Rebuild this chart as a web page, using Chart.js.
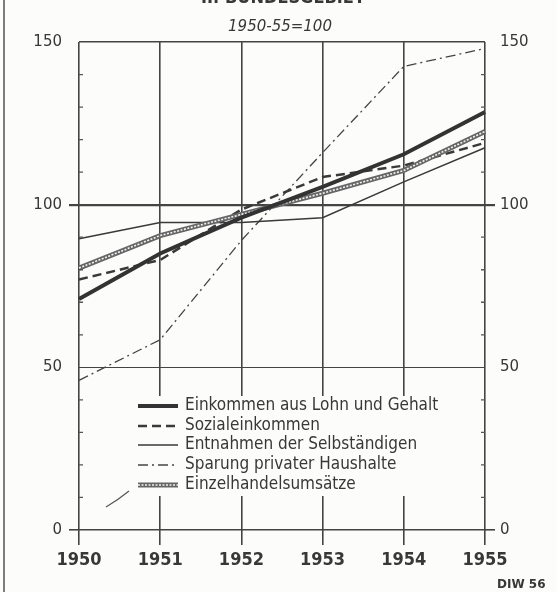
<!DOCTYPE html>
<html>
<head>
<meta charset="utf-8">
<script src="https://cdn.jsdelivr.net/npm/chart.js@4.4.1/dist/chart.umd.min.js"></script>
<style>
  html, body { margin: 0; background: #fcfcfb; }
  #wrap { width: 557px; height: 592px; position: relative; }
</style>
</head>
<body>
<div id="wrap"><canvas id="c"></canvas></div>
<script>
const years = ['1950', '1951', '1952', '1953', '1954', '1955']
const lohnGehalt = [71, 85, 96, 105.5, 115.5, 128.5]
const sozialeinkommen = [77, 83, 98.5, 108.5, 112, 119]
const entnahmen = [89.5, 94.5, 94.5, 96, 107, 117.5]
const sparung = [46, 58.5, 89, 116, 142.5, 148]
const einzelhandel = [80.5, 90.5, 97, 103.5, 110.5, 122.5]
const yTicks = [0, 50, 100, 150]
const minorTicks = [10, 20, 30, 40, 60, 70, 80, 90, 110, 120, 130, 140]
const legendLabels = [
  'Einkommen aus Lohn und Gehalt',
  'Sozialeinkommen',
  'Entnahmen der Selbständigen',
  'Sparung privater Haushalte',
  'Einzelhandelsumsätze'
]

const ink = '#383838'
const cond = '"DejaVu Sans Condensed", sans-serif'

// paper, frame line, headings
const paper = {
  id: 'paper',
  beforeDraw(chart) {
    const ctx = chart.ctx
    ctx.save()
    ctx.fillStyle = '#fcfcfb'
    ctx.fillRect(0, 0, chart.width, chart.height)
    ctx.strokeStyle = '#555'
    ctx.lineWidth = 1.5
    ctx.beginPath(); ctx.moveTo(4, 0); ctx.lineTo(4, chart.height); ctx.stroke()
    ctx.fillStyle = ink
    ctx.textAlign = 'center'
    ctx.textBaseline = 'alphabetic'
    ctx.font = 'bold 18px ' + cond
    ctx.fillText('II. BUNDESGEBIET', 283, 3)
    ctx.font = 'oblique 15px "DejaVu Sans", sans-serif'
    ctx.fillText('1950-55=100', 280, 31)
    ctx.textAlign = 'left'
    ctx.font = 'bold 12px "DejaVu Sans", sans-serif'
    ctx.fillText('DIW 56', 497, 588)
    ctx.restore()
  }
}

// small inward ticks every 10 on both value axes
const minor = {
  id: 'minor',
  afterDraw(chart) {
    const ctx = chart.ctx
    const y = chart.scales.y
    const a = chart.chartArea
    ctx.save()
    ctx.strokeStyle = '#555'
    ctx.lineWidth = 1.3
    minorTicks.forEach(v => {
      const py = y.getPixelForValue(v)
      ctx.beginPath()
      ctx.moveTo(a.left, py); ctx.lineTo(a.left + 4, py)
      ctx.moveTo(a.right, py); ctx.lineTo(a.right - 4, py)
      ctx.stroke()
    })
    ctx.restore()
  }
}

// legend box inside the plot
const inLegend = {
  id: 'inLegend',
  afterDraw(chart) {
    const ctx = chart.ctx
    ctx.save()
    ctx.fillStyle = '#fcfcfb'
    ctx.fillRect(130, 396, 322, 100)
    const rows = [406, 426, 445, 465, 485]
    const sets = chart.data.datasets
    rows.forEach((ry, i) => {
      const ds = sets[i]
      ctx.strokeStyle = ds.borderColor
      ctx.lineWidth = ds.borderWidth
      ctx.setLineDash(ds.borderDash || [])
      ctx.beginPath(); ctx.moveTo(138, ry); ctx.lineTo(178, ry); ctx.stroke()
      if (i === 4) {
        const ov = sets[5]
        ctx.strokeStyle = ov.borderColor
        ctx.lineWidth = ov.borderWidth
        ctx.setLineDash(ov.borderDash)
        ctx.beginPath(); ctx.moveTo(138, ry); ctx.lineTo(178, ry); ctx.stroke()
      }
      ctx.setLineDash([])
      ctx.fillStyle = ink
      ctx.font = '17px ' + cond
      ctx.textAlign = 'left'
      ctx.textBaseline = 'middle'
      ctx.fillText(legendLabels[i], 185, ry)
    })
    // little pointer stroke left of the legend
    ctx.strokeStyle = '#555'
    ctx.lineWidth = 1.2
    ctx.beginPath(); ctx.moveTo(106, 507); ctx.quadraticCurveTo(118, 500, 129, 491); ctx.stroke()
    ctx.restore()
  }
}

const tickOnly = c => (c.tick.value === 0 || c.tick.value === 100) ? '#444' : 'rgba(0,0,0,0)'
const hLine = c => c.tick.value === 100 ? 2.2 : (c.tick.value === 50 ? 1 : 1.6)

new Chart(document.getElementById('c'), {
  type: 'line',
  data: {
    labels: years,
    datasets: [
      { label: legendLabels[0], data: lohnGehalt, borderColor: '#333', borderWidth: 4, order: 0 },
      { label: legendLabels[1], data: sozialeinkommen, borderColor: '#3a3a3a', borderWidth: 2.5, borderDash: [9, 5], order: 3 },
      { label: legendLabels[2], data: entnahmen, borderColor: '#3a3a3a', borderWidth: 1.5, order: 4 },
      { label: legendLabels[3], data: sparung, borderColor: '#444', borderWidth: 1.3, borderDash: [10, 4, 2, 4], order: 5 },
      { label: legendLabels[4], data: einzelhandel, borderColor: '#666', borderWidth: 5, order: 2 },
      { label: '', data: einzelhandel, borderColor: '#f2f2f2', borderWidth: 1.6, borderDash: [2, 1.5], order: 1 }
    ]
  },
  options: {
    responsive: true,
    maintainAspectRatio: false,
    animation: false,
    events: [],
    elements: { point: { radius: 0 }, line: { tension: 0, fill: false } },
    layout: { padding: { top: 42, left: 0, right: 0, bottom: 0 } },
    plugins: { legend: { display: false }, tooltip: { enabled: false } },
    scales: {
      x: {
        offset: false,
        border: { display: false },
        grid: { color: '#444', lineWidth: 1.6, tickLength: 15 },
        ticks: { color: ink, font: { family: cond, size: 18, weight: 'bold' }, padding: 5, maxRotation: 0 },
        afterFit: s => { s.height = 62 }
      },
      y: {
        position: 'left',
        min: 0, max: 150,
        border: { display: false },
        grid: { color: '#444', lineWidth: hLine, tickLength: 10, tickColor: tickOnly },
        ticks: { stepSize: 50, color: ink, font: { family: '"DejaVu Sans", sans-serif', size: 15 }, padding: 7,
                 callback: v => yTicks.includes(v) ? String(v) : '' },
        afterFit: s => { s.width = 79 }
      },
      y2: {
        position: 'right',
        min: 0, max: 150,
        border: { display: false },
        grid: { drawOnChartArea: false, color: '#444', lineWidth: hLine, tickLength: 10, tickColor: tickOnly },
        ticks: { stepSize: 50, color: ink, font: { family: '"DejaVu Sans", sans-serif', size: 15 }, padding: 5,
                 callback: v => yTicks.includes(v) ? String(v) : '' },
        afterFit: s => { s.width = 72 }
      }
    }
  },
  plugins: [paper, minor, inLegend]
})
</script>
</body>
</html>
